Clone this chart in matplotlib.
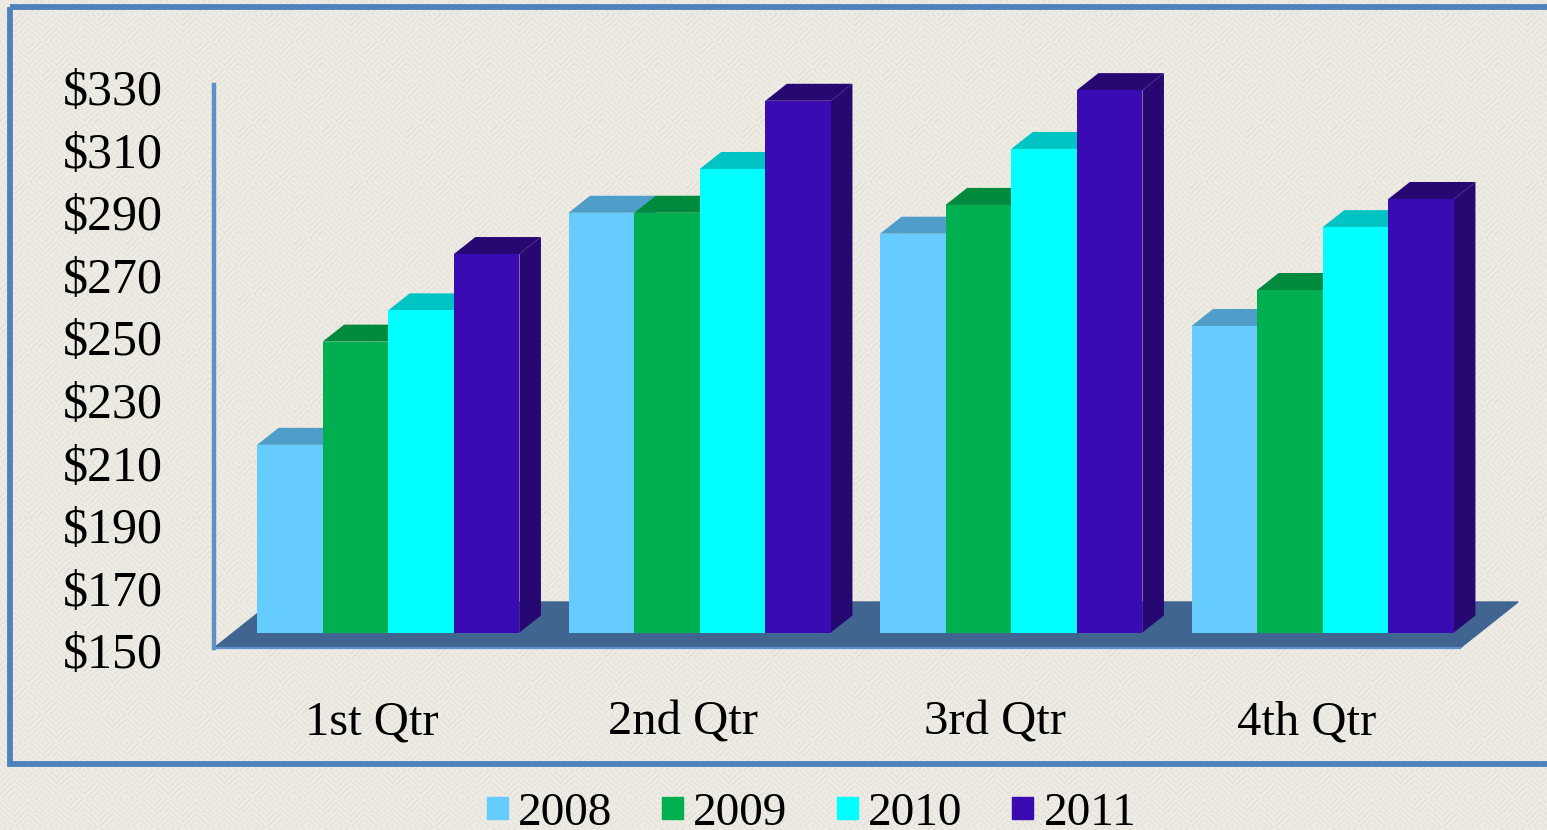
import numpy as np
import matplotlib
matplotlib.use('Agg')
import matplotlib.pyplot as plt
from matplotlib.patches import Patch, Rectangle
from matplotlib.transforms import ScaledTranslation

plt.rcParams['font.family'] = ['Liberation Serif', 'DejaVu Serif']

# values
quarters = ['1st Qtr', '2nd Qtr', '3rd Qtr', '4th Qtr']
years = ['2008', '2009', '2010', '2011']
sales_2008 = [210, 284.2, 277.5, 248]
sales_2009 = [243, 284.2, 286.7, 259.5]
sales_2010 = [253, 298.2, 304.6, 279.6]
sales_2011 = [271, 320, 323.4, 288.6]
y_ticks = [150, 170, 190, 210, 230, 250, 270, 290, 310, 330]

front_colors = ['#66CCFF', '#00B050', '#00FFFF', '#3A0BB2']
top_colors = ['#4F9DC9', '#008A3D', '#00C4C4', '#270873']
side_colors = ['#4F9DC9', '#008A3D', '#00C4C4', '#270873']

W, H = 1547, 830
BLUE = '#4F81BD'


# pixel box -> figure fraction, y measured from the top like in the picture
def box(x0, y_top, x1, y_bottom):
    return [x0 / W, 1 - y_bottom / H, (x1 - x0) / W, (y_bottom - y_top) / H]


# woven diamond wallpaper behind everything
def wallpaper():
    yy, xx = np.mgrid[0:H, 0:W]
    p = 28
    shift = (yy // p) % 2 * (p // 2)
    u = (xx + shift) % p - p / 2
    v = yy % p - p / 2
    d = np.abs(u) + np.abs(v)
    ring = (d % 6 < 2) & ((xx + yy) % 3 != 0)
    img = np.empty((H, W, 3))
    img[:] = matplotlib.colors.to_rgb('#EEEBE4')
    img[ring] = matplotlib.colors.to_rgb('#E3E0D7')
    return img


fig = plt.figure(figsize=(W / 100, H / 100), dpi=100)

bg = fig.add_axes([0, 0, 1, 1])
bg.imshow(wallpaper(), extent=(0, W, H, 0), aspect='auto', interpolation='bilinear')
bg.set_xlim(0, W)
bg.set_ylim(H, 0)
bg.axis('off')
bg.add_patch(Rectangle((9.5, 7), W, 757, fill=False, edgecolor=BLUE, linewidth=4.2))

# floor plane: carries the value axis and the category labels
base = fig.add_axes(box(214, 85, 1460, 648))
base.patch.set_visible(False)
base.set_xlim(-0.5, 3.5)
base.set_ylim(150, 330)
px_x = 4 / 1246
px_y = 180 / 563
base.fill([-0.5, 3.5, 3.5 + 58 * px_x, -0.5 + 58 * px_x],
          [150, 150, 150 + 46 * px_y, 150 + 46 * px_y], color='#3F6590', zorder=1, clip_on=False)
base.spines['top'].set_visible(False)
base.spines['right'].set_visible(False)
base.spines['left'].set_color('#5F8FC9')
base.spines['left'].set_linewidth(3.2)
base.spines['bottom'].set_color('#5F8FC9')
base.spines['bottom'].set_linewidth(1.6)
base.set_xticks(range(4))
base.set_xticklabels(quarters, fontsize=35)
base.set_yticks(y_ticks)
base.set_yticklabels(['$%d' % t for t in y_ticks], fontsize=36, va='center')
base.tick_params(axis='both', length=0)
base.tick_params(axis='y', pad=37)
base.tick_params(axis='x', pad=38)
# the labels sit a bit lower than their gridline height in the original
down = ScaledTranslation(0, -0.08, fig.dpi_scale_trans)
for label in base.get_yticklabels():
    label.set_transform(label.get_transform() + down)
right = ScaledTranslation(0.02, 0, fig.dpi_scale_trans)
for label in base.get_xticklabels():
    label.set_transform(label.get_transform() + right)

# bars stand a little further back on the floor
bars = fig.add_axes(box(214 + 18.5, 85 - 15.5, 1460 + 18.5, 648 - 15.5))
bars.patch.set_visible(False)
bars.set_xlim(-0.5, 3.5)
bars.set_ylim(150, 330)
bars.axis('off')

bar_w = 65.6 / 311.5
depth_x = 21.5 * px_x
depth_y = 17 * px_y
series = [sales_2008, sales_2009, sales_2010, sales_2011]

for q in range(4):
    for i in range(4):
        val = series[i][q]
        x0 = q + (i - 2) * bar_w
        x1 = x0 + bar_w
        bars.fill([x0, x1, x1 + depth_x, x0 + depth_x],
                  [val, val, val + depth_y, val + depth_y], color=top_colors[i], lw=0, clip_on=False)
        bars.fill([x1, x1 + depth_x, x1 + depth_x, x1],
                  [150, 150 + depth_y, val + depth_y, val], color=side_colors[i], lw=0, clip_on=False)
        bars.bar(x0, val - 150, width=bar_w, bottom=150, align='edge', color=front_colors[i], lw=0)

handles = [Patch(color=c) for c in front_colors]
fig.legend(handles, years, ncol=4, loc='lower center', bbox_to_anchor=(811.5 / W, -0.006), frameon=False,
           fontsize=34, handlelength=0.45, handleheight=0.343, handletextpad=0.21, columnspacing=1.05,
           borderaxespad=0, borderpad=0)

fig.savefig('out.png', dpi=100)
